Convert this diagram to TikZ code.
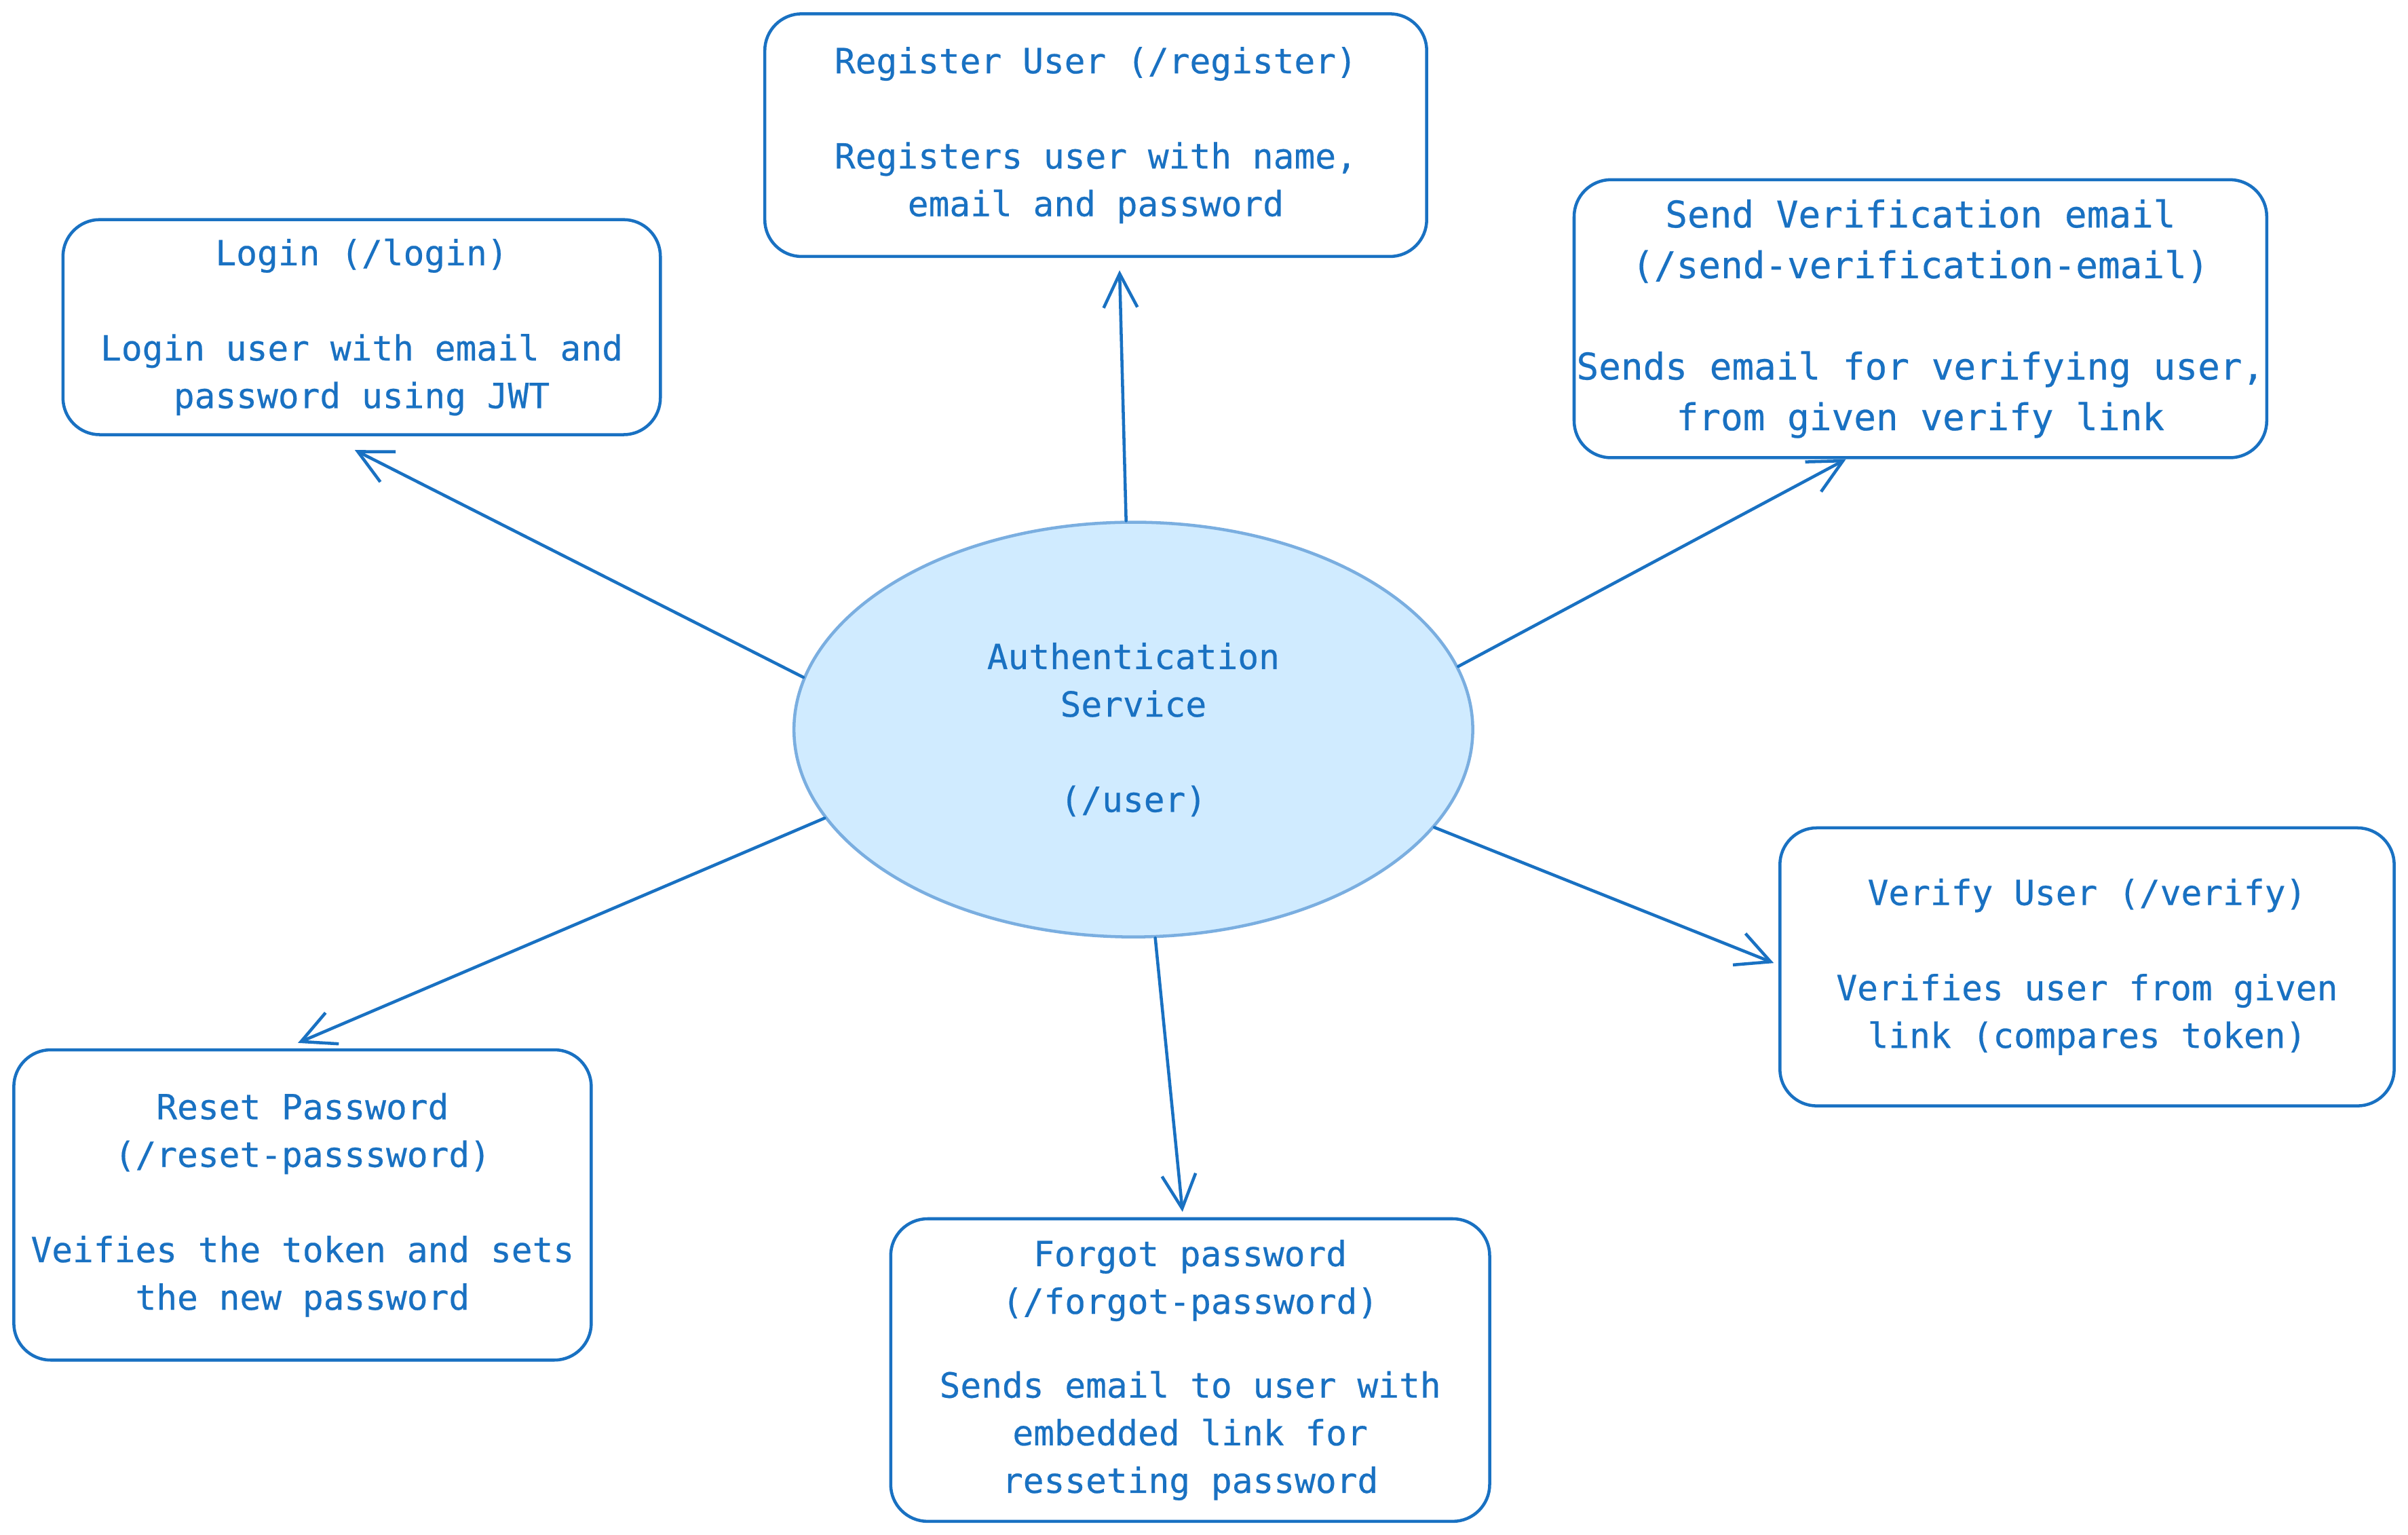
\documentclass[tikz,border=0pt]{standalone}
\usepackage{fontspec}
\setmonofont[FakeBold=0.4]{DejaVu Sans Mono}
\usepackage{tikz}
\usetikzlibrary{shapes.geometric, arrows.meta, calc}
\definecolor{inkblue}{HTML}{1971C2}
\definecolor{softblue}{HTML}{D0EBFF}
\definecolor{rimblue}{HTML}{7AAEE0}

\begin{document}
\begin{tikzpicture}[x=0.5pt, y=-0.5pt,
  every node/.style = {align=center, text=inkblue, inner sep=0pt,
    font=\ttfamily\fontsize{11.3}{15.5}\selectfont},
  route/.style = {shape=rectangle, draw=inkblue, line width=1pt, rounded corners=12pt},
  service/.style = {shape=ellipse, draw=rimblue, fill=softblue, line width=1pt,
    minimum width=221pt, minimum height=135pt},
  link/.style = {draw=inkblue, line width=1pt, line cap=round,
    -{Straight Barb[length=11pt, width=11pt, line width=1pt]}}]
  \useasboundingbox[fill=white] (0,0) rectangle (1568,999);

  % central service
  \node[service] (auth) at (738,475) {Authentication\\Service\\[15.5pt](/user)};

  % endpoints
  \node[route, minimum width=194.5pt, minimum height=70pt] (login) at (235.5,213)
    {Login (/login)\\[15.5pt]Login user with email and\\password using JWT};
  \node[route, minimum width=215.5pt, minimum height=79pt] (register) at (713.5,88)
    {Register User (/register)\\[15.5pt]Registers user with name,\\email and password};
  \node[route, minimum width=225.5pt, minimum height=90.5pt,
    font=\ttfamily\fontsize{12}{16.5}\selectfont] (sendver) at (1250.5,207.5)
    {Send Verification email\\(/send-verification-email)\\[16.5pt]Sends email for verifying user,\\from given verify link};
  \node[route, minimum width=200pt, minimum height=90.5pt] (verify) at (1359,629.5)
    {Verify User (/verify)\\[15.5pt]Verifies user from given\\link (compares token)};
  \node[route, minimum width=195pt, minimum height=98.5pt] (forgot) at (775,892)
    {Forgot password\\(/forgot-password)\\[11.8pt]Sends email to user with\\embedded link for\\resseting password};
  \node[route, minimum width=188pt, minimum height=101pt] (reset) at (197,784.5)
    {Reset Password\\(/reset-passsword)\\[15.5pt]Veifies the token and sets\\the new password};

  % connectors
  \draw[link] (auth.171) -- ($(login.south)+(-4.5,9)$);
  \draw[link] (auth.92.5) -- ($(register.south)+(15.5,8)$);
  \draw[link] (auth.11.6) -- ($(sendver.south)+(-48.5,0)$);
  \draw[link] (auth.-18.2) -- ($(verify.west)+(-3,-2.5)$);
  \draw[link] (auth.-84.2) -- ($(forgot.north)+(-5,-3.5)$);
  \draw[link] (auth.196.7) -- ($(reset.north)+(-3,-3.5)$);
\end{tikzpicture}
\end{document}
